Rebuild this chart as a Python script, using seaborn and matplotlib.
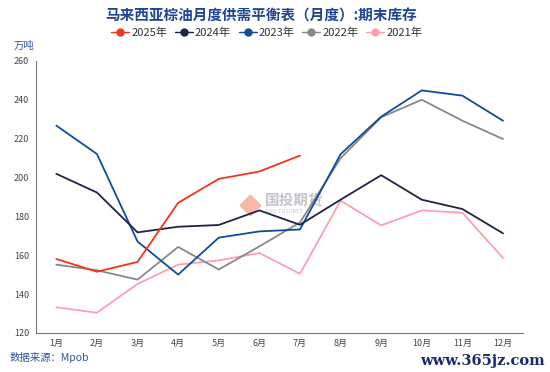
import matplotlib
matplotlib.use("Agg")
import matplotlib.pyplot as plt
from matplotlib.lines import Line2D
import seaborn as sns
import pandas as pd
import numpy as np

months = ["1月", "2月", "3月", "4月", "5月", "6月", "7月", "8月", "9月", "10月", "11月", "12月"]
years = ["2025年", "2024年", "2023年", "2022年", "2021年"]

stock_2025 = [158.0, 151.5, 156.5, 186.9, 199.2, 203.0, 211.2]
stock_2024 = [201.8, 192.2, 171.7, 174.6, 175.5, 183.0, 175.6, 188.5, 201.1, 188.5, 183.7, 171.2]
stock_2023 = [226.6, 212.0, 167.0, 150.0, 169.0, 172.2, 173.2, 211.9, 231.2, 244.7, 242.0, 229.1]
stock_2022 = [155.1, 152.2, 147.4, 164.2, 152.6, 164.5, 176.8, 209.8, 230.9, 239.9, 229.1, 219.7]
stock_2021 = [133.2, 130.4, 145.2, 155.1, 157.3, 161.1, 150.4, 188.0, 175.3, 183.0, 181.8, 158.5]

colors = ["#f5321a", "#1e2444", "#0f4c9e", "#888888", "#ff9db4"]

series = [stock_2025, stock_2024, stock_2023, stock_2022, stock_2021]
rows = []
for year, vals in zip(years, series):
    for i, v in enumerate(vals):
        rows.append({"year": year, "pos": i, "value": v})
df = pd.DataFrame(rows)

sns.set_style("white")
plt.rcParams["font.family"] = ["Noto Sans CJK SC", "DejaVu Sans"]

fig = plt.figure(figsize=(5.5, 3.72), dpi=100)
ax = fig.add_axes([0.0655, 0.105, 0.886, 0.732])

# draw older years first so 2025 sits on top
for year, col in reversed(list(zip(years, colors))):
    sub = df[df["year"] == year]
    sns.lineplot(data=sub, x="pos", y="value", color=col, linewidth=1.3, ax=ax, legend=False)

ax.set_xlim(-0.5, 11.5)
ax.set_ylim(120, 260)
ax.set_yticks(np.arange(120, 261, 20))
ax.set_xticks(np.arange(12))
ax.set_xticklabels(months)
ax.set_xticks(np.arange(-0.5, 12, 1), minor=True)
ax.tick_params(axis="x", which="major", length=0, labelsize=6.5, colors="#444444", pad=4)
ax.tick_params(axis="x", which="minor", length=3, width=0.8, colors="#777777", direction="out")
ax.tick_params(axis="y", length=3, width=0.8, colors="#777777", labelsize=6.5, labelcolor="#444444", direction="out", pad=2)
ax.set_xlabel("")
ax.set_ylabel("")
for s in ["top", "right"]:
    ax.spines[s].set_visible(False)
for s in ["left", "bottom"]:
    ax.spines[s].set_color("#777777")
    ax.spines[s].set_linewidth(0.8)

# watermark logo
ax.text(0.47, 0.49, "国投期货", transform=ax.transAxes, fontsize=10.5, color="#c4c4cc",
        fontweight="bold", ha="left", va="center", zorder=0)
ax.text(0.47, 0.445, "SDIC FUTURES", transform=ax.transAxes, fontsize=4, color="#c8c8d0",
        ha="left", va="center", zorder=0)
ax.scatter([0.44], [0.47], transform=ax.transAxes, marker="D", s=110, color="#f8b8a8", zorder=0)

handles = [Line2D([0], [0], color=c, lw=1, marker="o", markersize=5) for c in colors]
fig.legend(handles, years, loc="center", bbox_to_anchor=(0.485, 0.912), ncol=5, frameon=False,
           fontsize=8, handlelength=1.6, columnspacing=0.7, handletextpad=0.2,
           labelcolor="#333333")

fig.text(0.475, 0.958, "马来西亚棕油月度供需平衡表（月度）:期末库存", ha="center", va="center",
         fontsize=10.5, fontweight="bold", color="#1f4597")
fig.text(0.024, 0.878, "万吨", ha="left", va="center", fontsize=7.5, color="#2f55a4")
fig.text(0.018, 0.038, "数据来源：Mpob", ha="left", va="center", fontsize=7.5, color="#2f55a4")
fig.text(0.99, 0.03, "www.365jz.com", ha="right", va="center", fontsize=10.5, fontweight="bold",
         color="#1a2a6c", family=["DejaVu Serif"])

fig.savefig("out.png", dpi=100)
